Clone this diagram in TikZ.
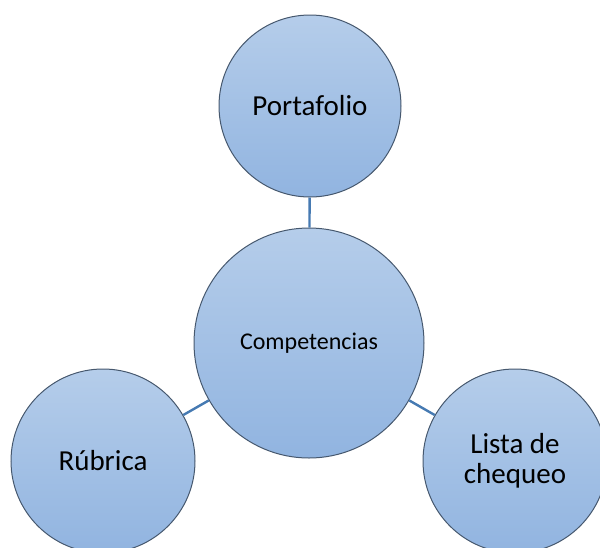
\documentclass[tikz,border=0pt]{standalone}
\usepackage{fontspec}
\setmainfont{Carlito}
\definecolor{bordc}{RGB}{70,88,110}
\definecolor{topc}{RGB}{181,205,234}
\definecolor{botc}{RGB}{145,180,224}
\definecolor{connc}{RGB}{70,122,178}
\tikzset{
  bubble/.style={circle, draw=bordc, line width=1pt, top color=topc, bottom color=botc,
    inner sep=0pt, align=center, font=\fontsize{29}{30.5}\selectfont},
  conn/.style={draw=connc, line width=2.4pt}
}
\begin{document}
\begin{tikzpicture}[x=1pt,y=-1pt]
\useasboundingbox (0,0) rectangle (600,547);
\clip (0,0) rectangle (600,547);
\node[bubble, minimum size=230pt, font=\fontsize{24}{26}\selectfont] (c) at (309,343) {Competencias};
\node[bubble, minimum size=182pt] (p) at (310,106) {Portafolio};
\node[bubble, minimum size=184pt] (r) at (103,461) {Rúbrica};
\node[bubble, minimum size=184pt] (l) at (515,461) {Lista de\\chequeo};
\draw[conn] (c) -- (p);
\draw[conn] (c) -- (r);
\draw[conn] (c) -- (l);
\end{tikzpicture}
\end{document}
